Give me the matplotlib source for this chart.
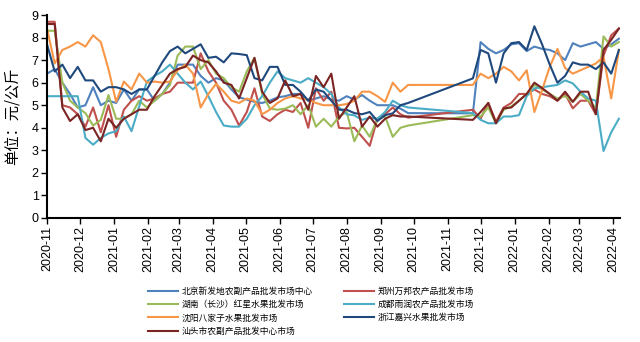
import matplotlib
matplotlib.use("Agg")
import matplotlib.pyplot as plt
import matplotlib.dates as mdates
import pandas as pd
import numpy as np

# weekly observation dates (two segments with a gap in Oct-Nov 2021)
dates_seg1 = pd.date_range("2020-11-01", periods=48, freq="7D")
dates_seg2 = pd.date_range("2021-11-24", periods=20, freq="7D")
dates = dates_seg1.append(dates_seg2)

names = ["北京新发地农副产品批发市场中心", "郑州万邦农产品批发市场", "湖南（长沙）红星水果批发市场",
         "成都雨润农产品批发市场", "沈阳八家子水果批发市场", "浙江嘉兴水果批发市场", "汕头市农副产品批发中心市场"]
colors = ["#4F81BD", "#C0504D", "#9BBB59", "#4BACC6", "#F79646", "#1F497D", "#7B2424"]

beijing = [6.4, 6.6, 6.0, 5.5, 4.9, 5.0, 5.8, 5.0, 5.2, 5.1, 5.7, 5.2, 5.7, 5.7, 5.2, 5.5, 6.0, 6.8, 6.8, 6.8,
           6.3, 6.0, 6.2, 6.1, 5.7, 5.35, 5.25, 5.15, 5.1, 5.2, 5.35, 5.4, 5.5, 5.5, 5.2, 5.3, 5.4, 5.25, 5.2, 5.4,
           5.25, 5.45, 5.2, 5.0, 5.0, 5.0, 4.85, 4.65,
           4.64, 7.8, 7.5, 7.3, 7.45, 7.7, 7.75, 7.4, 7.6, 7.5, 7.45, 7.3, 7.0, 7.75, 7.6, 7.7, 7.8, 7.5, 7.7, 7.95]
zhengzhou = [8.7, 8.7, 5.0, 4.9, 4.6, 4.05, 4.9, 3.8, 5.0, 3.6, 4.8, 5.2, 5.4, 5.2, 5.3, 5.5, 5.6, 6.0, 6.0, 6.0,
             7.3, 6.5, 6.0, 5.2, 4.8, 4.1, 4.7, 5.75, 4.5, 4.3, 4.6, 4.8, 4.7, 5.1, 4.0, 5.75, 5.2, 5.6, 4.0, 3.97,
             4.0, 3.6, 3.2, 4.4, 4.6, 4.9, 4.6, 4.45,
             4.8, 4.4, 5.1, 4.27, 4.9, 5.1, 5.5, 5.5, 5.7, 5.5, 5.4, 5.2, 5.5, 4.86, 5.2, 5.2, 4.6, 7.2, 8.1, 8.4]
hunan = [8.3, 8.3, 6.0, 5.2, 4.9, 4.65, 4.1, 4.35, 5.45, 4.4, 4.4, 4.6, 5.2, 4.9, 5.2, 5.5, 5.9, 7.2, 7.6, 7.6,
         6.6, 7.0, 6.4, 6.2, 5.8, 5.6, 6.5, 7.1, 5.5, 4.85, 4.8, 4.85, 5.0, 4.6, 5.0, 4.05, 4.4, 4.05, 4.5, 4.7,
         3.4, 4.1, 3.6, 4.4, 4.5, 3.6, 4.0, 4.1,
         4.56, 4.5, 4.9, 4.2, 4.8, 4.95, 5.2, 5.5, 5.9, 5.7, 5.5, 5.3, 5.4, 5.15, 5.5, 5.2, 4.9, 8.05, 7.6, 7.8]
chengdu = [5.4, 5.4, 5.4, 5.4, 5.4, 3.55, 3.25, 3.55, 3.75, 3.85, 4.5, 3.85, 4.95, 6.05, 6.3, 6.5, 6.8, 6.4, 6.0, 5.7,
           6.05, 5.4, 4.7, 4.1, 4.05, 4.05, 4.4, 5.0, 5.4, 6.0, 6.5, 6.2, 6.1, 6.0, 6.2, 6.0, 5.8, 5.5, 4.9, 4.6,
           4.55, 4.35, 4.45, 4.4, 4.7, 5.2, 5.0, 4.9,
           4.65, 4.35, 4.2, 4.2, 4.5, 4.5, 4.56, 5.4, 5.75, 5.8, 5.85, 5.9, 6.1, 5.97, 5.6, 5.3, 5.2, 2.97, 3.8, 4.4]
shenyang = [8.4, 6.85, 7.45, 7.6, 7.8, 7.6, 8.1, 7.8, 6.6, 5.15, 6.05, 5.7, 6.4, 6.0, 6.05, 6.0, 6.05, 6.55, 6.8, 6.4,
            4.9, 5.5, 5.95, 5.6, 5.2, 5.1, 5.3, 5.2, 4.6, 4.8, 5.1, 5.3, 5.4, 5.3, 5.25, 5.1, 5.0, 5.0, 5.0, 5.05,
            5.2, 5.6, 5.6, 5.4, 5.15, 6.0, 5.6, 5.9,
            5.9, 6.4, 6.2, 6.4, 6.7, 6.5, 6.1, 6.55, 4.7, 5.67, 6.7, 7.5, 6.65, 6.4, 6.55, 6.7, 6.85, 7.15, 5.3, 7.45]
jiaxing = [7.7, 6.5, 6.8, 6.2, 6.7, 6.1, 6.1, 5.6, 5.8, 5.8, 5.7, 5.5, 5.7, 5.7, 6.3, 6.9, 7.4, 7.6, 7.3, 7.5,
           7.7, 7.1, 7.15, 6.9, 7.3, 7.27, 7.22, 6.2, 6.1, 6.7, 6.7, 5.9, 5.9, 5.6, 5.2, 5.7, 5.6, 5.2, 4.8, 4.8,
           4.65, 4.6, 4.7, 4.3, 4.56, 4.64, 5.0, 5.1,
           6.19, 7.45, 7.3, 6.0, 7.3, 7.75, 7.8, 7.45, 8.5, 7.7, 6.8, 6.0, 6.3, 6.9, 6.8, 6.8, 6.6, 6.9, 6.4, 7.45]
shantou = [8.6, 8.6, 4.9, 4.3, 4.6, 3.9, 4.0, 3.4, 4.4, 4.0, 4.4, 4.6, 4.8, 4.8, 5.4, 5.9, 6.4, 6.6, 6.7, 7.2,
           7.0, 6.9, 6.5, 6.0, 5.9, 5.3, 6.2, 7.1, 5.6, 5.1, 5.3, 6.1, 5.4, 5.5, 4.8, 6.3, 5.8, 6.4, 4.4, 4.9,
           5.4, 4.05, 4.5, 4.05, 4.4, 4.56, 4.5, 4.5,
           4.35, 4.7, 5.1, 4.2, 4.86, 4.9, 5.2, 5.5, 6.0, 5.76, 5.5, 5.2, 5.6, 5.15, 5.6, 5.6, 4.6, 7.45, 7.9, 8.4]
series = [beijing, zhengzhou, hunan, chengdu, shenyang, jiaxing, shantou]

plt.rcParams['font.family'] = ['Liberation Sans', 'Noto Sans CJK SC', 'DejaVu Sans']

fig = plt.figure(figsize=(6.4, 3.42), dpi=100)
ax = fig.add_axes([47/640, 1-218/342, (620-47)/640, (218-15)/342])

lines = []
for name, col, vals in zip(names, colors, series):
    ln, = ax.plot(dates, vals, color=col, lw=1.5, label=name)
    lines.append(ln)

ax.set_ylim(0, 9)
ax.set_yticks(range(0, 10))
ax.set_xlim(pd.Timestamp("2020-11-01"), pd.Timestamp("2022-04-07"))
ax.xaxis.set_major_locator(mdates.MonthLocator())
ax.xaxis.set_major_formatter(mdates.DateFormatter("%Y-%m"))
for lbl in ax.get_xticklabels():
    lbl.set_rotation(90)
ax.tick_params(axis='x', labelsize=9, length=4, width=1, pad=2)
ax.tick_params(axis='y', labelsize=9, length=4, width=1, pad=2)
for s in ['top', 'right']:
    ax.spines[s].set_visible(False)
for s in ['left', 'bottom']:
    ax.spines[s].set_linewidth(1.5)
ax.set_ylabel("单位：元/公斤", fontsize=11, family=['Noto Sans CJK SC'], labelpad=8)

order = [0, 2, 4, 6, 1, 3, 5]
leg = fig.legend([lines[i] for i in order], [names[i] for i in order], ncol=2,
                 loc='upper left', bbox_to_anchor=(148/640, 1-287/342), frameon=False,
                 prop={'family': 'Noto Sans CJK SC', 'size': 6.3},
                 handlelength=3.4, handletextpad=0.4, columnspacing=3.6,
                 labelspacing=0.48, borderpad=0, borderaxespad=0)

fig.savefig("out.png", dpi=100)
